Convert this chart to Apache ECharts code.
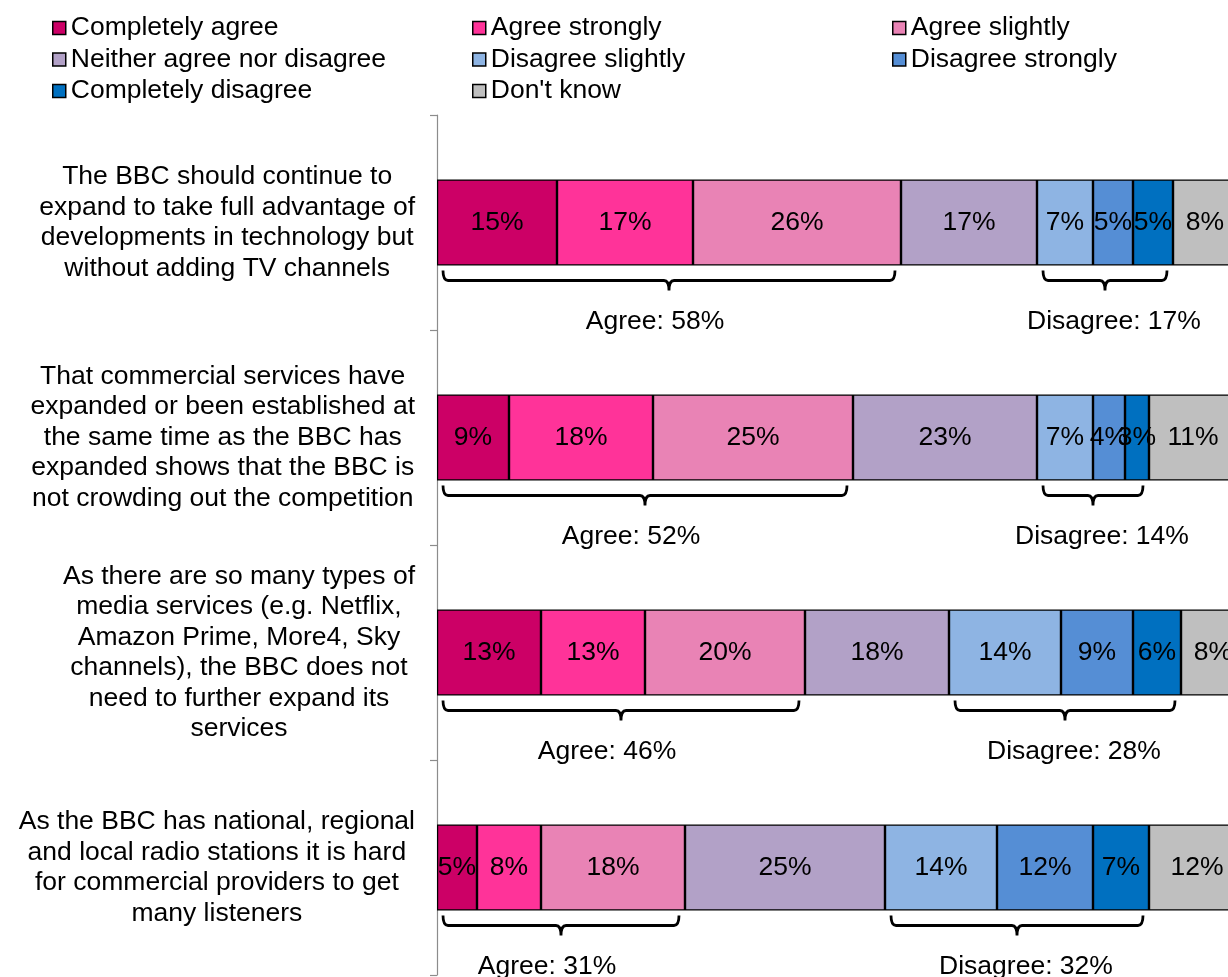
<!DOCTYPE html>
<html>
<head>
<meta charset="utf-8">
<script src="https://cdn.jsdelivr.net/npm/echarts@6/dist/echarts.min.js"></script>
<style>
html, body { margin: 0; padding: 0; background: #fff; }
#chart { width: 1228px; height: 977px; }
</style>
</head>
<body>
<div id="chart"></div>
<script>
const categories = [
  "The BBC should continue to\nexpand to take full advantage of\ndevelopments in technology but\nwithout adding TV channels",
  "That commercial services have\nexpanded or been established at\nthe same time as the BBC has\nexpanded shows that the BBC is\nnot crowding out the competition",
  "As there are so many types of\nmedia services (e.g. Netflix,\nAmazon Prime, More4, Sky\nchannels), the BBC does not\nneed to further expand its\nservices",
  "As the BBC has national, regional\nand local radio stations it is hard\nfor commercial providers to get\nmany listeners"
];
const completelyAgree    = [15, 9, 13, 5];
const agreeStrongly      = [17, 18, 13, 8];
const agreeSlightly      = [26, 25, 20, 18];
const neither            = [17, 23, 18, 25];
const disagreeSlightly   = [7, 7, 14, 14];
const disagreeStrongly   = [5, 4, 9, 12];
const completelyDisagree = [5, 3, 6, 7];
const dontKnow           = [8, 11, 8, 12];
const agreeTotals    = [58, 52, 46, 31];
const disagreeTotals = [17, 14, 28, 32];

const seriesNames = ["Completely agree", "Agree strongly", "Agree slightly",
  "Neither agree nor disagree", "Disagree slightly", "Disagree strongly",
  "Completely disagree", "Don't know"];
const seriesValues = [completelyAgree, agreeStrongly, agreeSlightly, neither,
  disagreeSlightly, disagreeStrongly, completelyDisagree, dontKnow];
const colors = ["#CC0066", "#FF3399", "#E983B5", "#B2A1C7",
  "#8EB4E3", "#558ED5", "#0070C0", "#BFBFBF"];

const FONT = "'Liberation Sans', Arial, sans-serif";
const FS = 26.5;
const BAR_W = 86;

// bracket spans computed from the segment values
const agreeSpans = categories.map((c, i) => {
  const end = completelyAgree[i] + agreeStrongly[i] + agreeSlightly[i];
  return [0, end, i];
});
const disagreeSpans = categories.map((c, i) => {
  const start = completelyAgree[i] + agreeStrongly[i] + agreeSlightly[i] + neither[i];
  const end = start + disagreeSlightly[i] + disagreeStrongly[i] + completelyDisagree[i];
  return [start, end, i];
});

function bracketRenderer(prefix, totals, textShift) {
  return function (params, api) {
    const cat = api.value(2);
    const p0 = api.coord([api.value(0), cat]);
    const p1 = api.coord([api.value(1), cat]);
    const barBottom = p0[1] + BAR_W / 2;
    const x0 = p0[0] + 6, x1 = p1[0] - 6, xm = (x0 + x1) / 2;
    const yTop = barBottom + 5, yH = barBottom + 15, yT = barBottom + 25;
    const r = 5;
    const d = 'M' + x0 + ' ' + yTop +
      ' Q' + x0 + ' ' + yH + ' ' + (x0 + r) + ' ' + yH +
      ' L' + (xm - r) + ' ' + yH +
      ' Q' + xm + ' ' + yH + ' ' + xm + ' ' + yT +
      ' Q' + xm + ' ' + yH + ' ' + (xm + r) + ' ' + yH +
      ' L' + (x1 - r) + ' ' + yH +
      ' Q' + x1 + ' ' + yH + ' ' + x1 + ' ' + yTop;
    return {
      type: 'group',
      children: [
        { type: 'path', shape: { pathData: d },
          style: { fill: 'none', stroke: '#000', lineWidth: 2.8 } },
        { type: 'text', x: xm + textShift, y: barBottom + 56,
          style: { text: prefix + totals[params.dataIndex] + '%', fontSize: FS,
            fontFamily: FONT, fill: '#000', align: 'center', verticalAlign: 'middle' } }
      ]
    };
  };
}

const series = seriesNames.map((name, k) => ({
  name: name,
  type: 'bar',
  stack: 'total',
  barWidth: BAR_W,
  clip: false,
  data: seriesValues[k],
  itemStyle: { color: colors[k], borderColor: '#000', borderWidth: 1.2 },
  label: { show: true, position: 'inside', formatter: '{c}%', fontSize: FS,
    fontFamily: FONT, color: '#000', textBorderWidth: 0 },
  emphasis: { disabled: true }
}));
series.push({
  type: 'custom', name: 'agreeBracket', clip: false,
  encode: { x: [0, 1], y: 2 },
  data: agreeSpans,
  renderItem: bracketRenderer('Agree: ', agreeTotals, -14),
  z: 5
});
series.push({
  type: 'custom', name: 'disagreeBracket', clip: false,
  encode: { x: [0, 1], y: 2 },
  data: disagreeSpans,
  renderItem: bracketRenderer('Disagree: ', disagreeTotals, 9),
  z: 5
});

function legendCol(left, names) {
  return {
    orient: 'vertical', left: left, top: 12.5, itemGap: 0.5, padding: 0,
    itemWidth: 13, itemHeight: 13, icon: 'rect', selectedMode: false,
    itemStyle: { borderColor: '#000', borderWidth: 1.5 },
    textStyle: { fontSize: FS, fontFamily: FONT, color: '#000', lineHeight: 31 },
    data: names
  };
}

const chart = echarts.init(document.getElementById('chart'), null, { renderer: 'canvas' });
chart.setOption({
  animation: false,
  backgroundColor: '#fff',
  legend: [
    legendCol(52, [seriesNames[0], seriesNames[3], seriesNames[6]]),
    legendCol(472, [seriesNames[1], seriesNames[4], seriesNames[7]]),
    legendCol(892, [seriesNames[2], seriesNames[5]])
  ],
  grid: { left: 437, top: 115, width: 800, height: 860, outerBoundsMode: 'none', containLabel: false },
  xAxis: {
    type: 'value', min: 0, max: 100, show: false,
    splitLine: { show: false }
  },
  yAxis: {
    type: 'category', inverse: true, data: categories,
    axisLine: { show: true, lineStyle: { color: '#8C8C8C', width: 1.2 } },
    axisTick: { show: true, length: 7, lineStyle: { color: '#8C8C8C', width: 1.2 } },
    axisLabel: {
      interval: 0, margin: 22, color: '#000',
      formatter: function (v) { return v.split('\n').map(s => '{c|' + s + '}').join('\n'); },
      rich: { c: { align: 'center', fontSize: FS, lineHeight: 30.5, fontFamily: FONT, color: '#000' } }
    },
    splitLine: { show: false }
  },
  series: series
});
</script>
</body>
</html>
